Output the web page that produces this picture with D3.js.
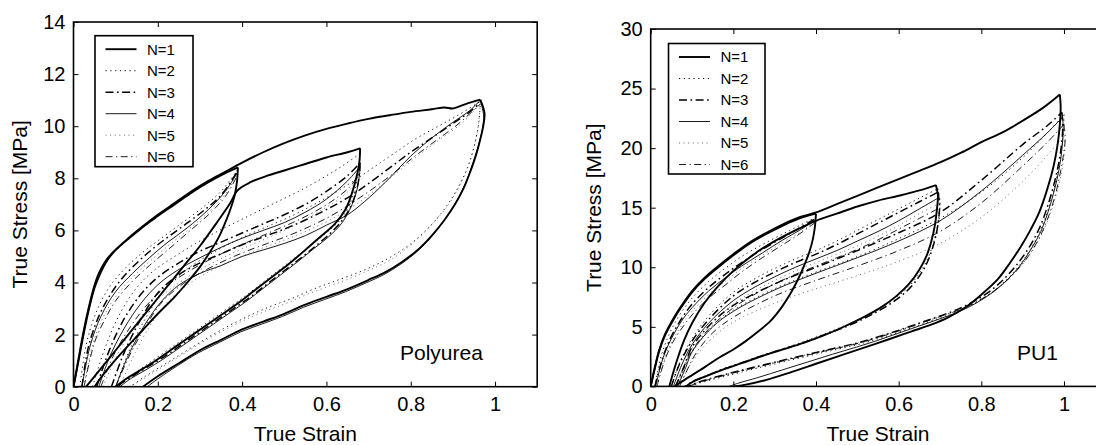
<!DOCTYPE html>
<html>
<head>
<meta charset="utf-8">
<script src="https://cdn.jsdelivr.net/npm/d3@7"></script>
<style>
  body { margin: 0; background: #fff; }
  svg { display: block; }
  text { font-family: "Liberation Sans", Arial, Helvetica, sans-serif; fill: #000; }
</style>
</head>
<body>
<svg id="fig" width="1096" height="445"></svg>
<script>
// ---- tick values and labels ----
const strainTicks = [0, 0.2, 0.4, 0.6, 0.8, 1];
const polyureaStressTicks = [0, 2, 4, 6, 8, 10, 12, 14];
const pu1StressTicks = [0, 5, 10, 15, 20, 25, 30];
const cycleLabels = ["N=1", "N=2", "N=3", "N=4", "N=5", "N=6"];

// ---- Polyurea: [true strain, true stress MPa]; each inner array is one loading or unloading branch ----
const polyureaN1 = [
  [[0,0],[0.01,0.9],[0.02,1.8],[0.03,2.6],[0.04,3.3],[0.05,3.9],[0.06,4.35],[0.075,4.8],[0.09,5.1],[0.11,5.4],[0.14,5.8],[0.17,6.2],[0.2,6.55],[0.24,7.0],[0.28,7.45],[0.32,7.85],[0.36,8.2],[0.39,8.42]],
  [[0.39,8.42],[0.388,7.9],[0.383,7.4],[0.373,6.85],[0.36,6.3],[0.345,5.75],[0.325,5.2],[0.3,4.6],[0.27,4.0],[0.24,3.45],[0.2,2.8],[0.16,2.1],[0.12,1.4],[0.09,0.85],[0.065,0.35],[0.05,0]],
  [[0.03,0],[0.06,0.6],[0.1,1.4],[0.14,2.2],[0.18,3.0],[0.22,3.8],[0.26,4.6],[0.3,5.4],[0.34,6.3],[0.37,7.0],[0.39,7.55],[0.42,7.85],[0.46,8.1],[0.5,8.3],[0.55,8.55],[0.6,8.8],[0.65,9.0],[0.68,9.15]],
  [[0.68,9.15],[0.678,8.6],[0.672,8.1],[0.66,7.4],[0.645,6.8],[0.62,6.25],[0.585,5.75],[0.55,5.25],[0.51,4.7],[0.47,4.2],[0.43,3.7],[0.39,3.2],[0.35,2.75],[0.31,2.3],[0.27,1.85],[0.23,1.4],[0.19,0.95],[0.15,0.55],[0.12,0.25],[0.1,0]],
  [[0,0],[0.012,1.0],[0.025,2.1],[0.037,3.0],[0.05,3.8],[0.065,4.4],[0.08,4.85],[0.1,5.25],[0.13,5.7],[0.16,6.1],[0.2,6.6],[0.24,7.05],[0.28,7.5],[0.32,7.9],[0.36,8.25],[0.4,8.6],[0.45,9.0],[0.5,9.35],[0.55,9.65],[0.6,9.9],[0.65,10.1],[0.7,10.28],[0.75,10.42],[0.8,10.55],[0.85,10.65],[0.88,10.72],[0.9,10.68],[0.93,10.85],[0.965,11.02]],
  [[0.965,11.02],[0.975,10.5],[0.972,10.0],[0.965,9.5],[0.955,8.9],[0.94,8.2],[0.925,7.6],[0.905,7.0],[0.88,6.4],[0.85,5.8],[0.82,5.3],[0.78,4.8],[0.74,4.4],[0.7,4.1],[0.65,3.75],[0.6,3.45],[0.55,3.15],[0.5,2.8],[0.45,2.5],[0.4,2.2],[0.35,1.8],[0.3,1.4],[0.25,0.9],[0.2,0.4],[0.165,0]]
];
const polyureaN2 = [
  [[0.015,0],[0.03,1.6],[0.05,2.7],[0.08,3.7],[0.12,4.5],[0.16,5.1],[0.2,5.6],[0.25,6.2],[0.3,6.8],[0.35,7.5],[0.39,8.35]],
  [[0.045,0],[0.075,1.5],[0.11,2.8],[0.15,3.8],[0.19,4.45],[0.24,5.0],[0.29,5.5],[0.34,5.95],[0.39,6.35],[0.44,6.75],[0.49,7.15],[0.54,7.55],[0.59,8.0],[0.64,8.5],[0.68,8.95]],
  [[0.68,8.95],[0.676,8.3],[0.668,7.6],[0.655,7.0],[0.635,6.45],[0.6,5.9],[0.565,5.45],[0.525,4.95],[0.485,4.45],[0.445,3.95],[0.405,3.45],[0.365,3.0],[0.325,2.55],[0.285,2.1],[0.245,1.65],[0.205,1.2],[0.165,0.75],[0.13,0.35],[0.105,0]],
  [[0.1,0],[0.13,1.3],[0.17,2.6],[0.21,3.6],[0.26,4.4],[0.31,4.95],[0.36,5.4],[0.41,5.8],[0.46,6.15],[0.51,6.5],[0.56,6.9],[0.61,7.35],[0.66,7.85],[0.71,8.4],[0.76,8.95],[0.81,9.5],[0.86,9.95],[0.91,10.4],[0.965,10.95]],
  [[0.965,10.95],[0.962,10.2],[0.953,9.4],[0.94,8.65],[0.922,7.95],[0.9,7.3],[0.872,6.65],[0.842,6.1],[0.805,5.55],[0.765,5.1],[0.72,4.7],[0.67,4.35],[0.62,4.05],[0.57,3.75],[0.52,3.4],[0.47,3.1],[0.42,2.75],[0.37,2.35],[0.32,1.9],[0.27,1.4],[0.22,0.9],[0.17,0.4],[0.135,0]]
];
const polyureaN3 = [
  [[0.02,0],[0.035,1.5],[0.06,2.7],[0.09,3.6],[0.12,4.25],[0.16,4.9],[0.2,5.45],[0.25,6.05],[0.3,6.65],[0.35,7.35],[0.39,8.3]],
  [[0.055,0],[0.085,1.4],[0.12,2.6],[0.16,3.55],[0.2,4.2],[0.25,4.75],[0.3,5.2],[0.35,5.55],[0.4,5.9],[0.45,6.25],[0.5,6.6],[0.55,7.0],[0.6,7.5],[0.65,8.1],[0.68,8.6]],
  [[0.68,8.6],[0.677,8.0],[0.67,7.45],[0.657,6.9],[0.638,6.4],[0.61,5.9],[0.578,5.45],[0.54,4.95],[0.5,4.45],[0.46,3.95],[0.42,3.45],[0.38,3.0],[0.34,2.55],[0.3,2.1],[0.26,1.65],[0.22,1.2],[0.18,0.8],[0.14,0.4],[0.11,0.08],[0.105,0]],
  [[0.09,0],[0.12,1.3],[0.16,2.6],[0.2,3.6],[0.25,4.3],[0.3,4.75],[0.35,5.1],[0.4,5.45],[0.45,5.75],[0.5,6.05],[0.55,6.4],[0.6,6.8],[0.65,7.25],[0.7,7.8],[0.75,8.4],[0.8,9.0],[0.85,9.55],[0.9,10.1],[0.94,10.55],[0.965,10.9]]
];
const polyureaN4 = [
  [[0.02,0],[0.04,1.6],[0.065,2.7],[0.1,3.65],[0.14,4.35],[0.18,4.95],[0.22,5.5],[0.27,6.1],[0.32,6.8],[0.36,7.5],[0.39,8.25]],
  [[0.06,0],[0.09,1.3],[0.13,2.5],[0.17,3.4],[0.21,4.05],[0.26,4.6],[0.3,4.95],[0.35,5.35],[0.4,5.7],[0.45,6.0],[0.5,6.3],[0.55,6.7],[0.6,7.2],[0.65,7.9],[0.68,8.45]],
  [[0.68,8.45],[0.676,7.85],[0.668,7.3],[0.654,6.75],[0.635,6.25],[0.605,5.75],[0.57,5.3],[0.532,4.8],[0.492,4.3],[0.452,3.8],[0.412,3.3],[0.372,2.85],[0.332,2.4],[0.292,1.95],[0.252,1.5],[0.212,1.05],[0.172,0.65],[0.135,0.3],[0.11,0]],
  [[0.1,0],[0.13,1.2],[0.17,2.4],[0.21,3.3],[0.25,3.9],[0.3,4.35],[0.35,4.65],[0.4,5.0],[0.45,5.25],[0.5,5.5],[0.55,5.8],[0.6,6.2],[0.65,6.6],[0.69,7.1],[0.74,7.85],[0.8,8.85],[0.85,9.55],[0.9,10.15],[0.94,10.6],[0.965,11.0]],
  [[0.965,11.0],[0.973,10.4],[0.97,9.9],[0.963,9.4],[0.952,8.8],[0.937,8.1],[0.921,7.5],[0.901,6.9],[0.876,6.3],[0.846,5.7],[0.816,5.2],[0.776,4.7],[0.736,4.3],[0.696,4.0],[0.646,3.65],[0.596,3.35],[0.546,3.05],[0.496,2.7],[0.446,2.4],[0.396,2.1],[0.346,1.7],[0.296,1.3],[0.246,0.8],[0.2,0.3],[0.175,0]]
];
const polyureaN5 = [
  [[0.025,0],[0.045,1.6],[0.07,2.65],[0.1,3.45],[0.14,4.2],[0.18,4.8],[0.22,5.35],[0.27,6.0],[0.32,6.7],[0.36,7.4],[0.39,8.2]],
  [[0.07,0],[0.1,1.1],[0.14,2.2],[0.18,3.05],[0.23,3.75],[0.28,4.3],[0.33,4.75],[0.38,5.15],[0.43,5.5],[0.48,5.85],[0.53,6.25],[0.58,6.7],[0.63,7.2],[0.66,7.65],[0.68,8.2]],
  [[0.11,0],[0.14,1.1],[0.18,2.3],[0.22,3.2],[0.27,3.9],[0.32,4.4],[0.37,4.8],[0.42,5.15],[0.47,5.45],[0.52,5.75],[0.57,6.1],[0.62,6.5],[0.67,7.0],[0.72,7.6],[0.77,8.25],[0.82,8.9],[0.87,9.5],[0.92,10.1],[0.965,10.85]],
  [[0.965,10.85],[0.96,10.0],[0.95,9.2],[0.935,8.4],[0.915,7.7],[0.89,7.0],[0.86,6.4],[0.828,5.85],[0.79,5.3],[0.75,4.85],[0.705,4.5],[0.655,4.15],[0.605,3.85],[0.555,3.55],[0.505,3.2],[0.455,2.9],[0.405,2.55],[0.355,2.15],[0.305,1.7],[0.255,1.2],[0.205,0.7],[0.155,0.2],[0.13,0]]
];
const polyureaN6 = [
  [[0.025,0],[0.05,1.7],[0.075,2.6],[0.1,3.3],[0.14,4.05],[0.18,4.65],[0.22,5.2],[0.27,5.9],[0.32,6.6],[0.36,7.3],[0.39,8.15]],
  [[0.065,0],[0.095,1.2],[0.135,2.3],[0.175,3.15],[0.22,3.85],[0.27,4.4],[0.32,4.85],[0.37,5.25],[0.42,5.6],[0.47,5.95],[0.52,6.3],[0.57,6.7],[0.62,7.2],[0.66,7.75],[0.68,8.3]],
  [[0.1,0],[0.13,1.1],[0.17,2.3],[0.21,3.25],[0.26,3.95],[0.31,4.45],[0.36,4.85],[0.41,5.2],[0.46,5.5],[0.51,5.8],[0.56,6.15],[0.61,6.55],[0.66,7.05],[0.71,7.6],[0.76,8.2],[0.81,8.85],[0.86,9.45],[0.91,10.05],[0.965,10.85]]
];

// ---- PU1 ----
const pu1N1 = [
  [[0,0],[0.01,1.5],[0.02,2.9],[0.035,4.3],[0.055,5.6],[0.075,6.7],[0.1,7.9],[0.13,9.0],[0.16,9.9],[0.2,11.0],[0.24,12.0],[0.28,12.8],[0.32,13.5],[0.36,14.1],[0.4,14.5]],
  [[0.4,14.5],[0.397,13.3],[0.392,12.3],[0.384,11.3],[0.372,10.2],[0.358,9.1],[0.34,7.9],[0.318,6.7],[0.29,5.5],[0.26,4.6],[0.23,3.8],[0.2,3.1],[0.165,2.4],[0.13,1.6],[0.1,0.95],[0.075,0.4],[0.058,0]],
  [[0.045,0],[0.06,1.8],[0.08,3.8],[0.1,5.3],[0.13,7.0],[0.16,8.3],[0.2,9.7],[0.25,11.1],[0.3,12.2],[0.35,13.1],[0.4,13.9],[0.45,14.5],[0.5,15.1],[0.55,15.6],[0.6,16.0],[0.65,16.45],[0.69,16.9]],
  [[0.69,16.9],[0.695,16.0],[0.693,15.0],[0.688,13.6],[0.68,12.3],[0.668,11.0],[0.65,9.8],[0.625,8.6],[0.595,7.6],[0.56,6.7],[0.52,5.9],[0.47,5.05],[0.42,4.3],[0.37,3.65],[0.32,3.1],[0.27,2.55],[0.22,1.95],[0.17,1.35],[0.13,0.8],[0.1,0.35],[0.085,0]],
  [[0,0],[0.01,1.6],[0.02,3.0],[0.035,4.4],[0.055,5.7],[0.075,6.8],[0.1,8.0],[0.13,9.1],[0.16,10.0],[0.2,11.1],[0.24,12.1],[0.28,12.9],[0.32,13.6],[0.36,14.2],[0.4,14.6],[0.45,15.3],[0.5,16.0],[0.55,16.7],[0.6,17.4],[0.65,18.1],[0.7,18.8],[0.75,19.6],[0.8,20.5],[0.85,21.3],[0.9,22.3],[0.95,23.4],[0.99,24.5]],
  [[0.99,24.5],[0.992,23.5],[0.99,22.0],[0.985,20.4],[0.975,18.5],[0.96,16.6],[0.94,14.6],[0.92,13.2],[0.895,11.7],[0.87,10.4],[0.84,9.0],[0.8,7.7],[0.76,6.6],[0.72,5.8],[0.68,5.2],[0.63,4.6],[0.58,4.0],[0.52,3.3],[0.46,2.6],[0.4,1.9],[0.34,1.2],[0.28,0.55],[0.23,0.15],[0.2,0]]
];
const pu1N2 = [
  [[0.01,0],[0.025,2.5],[0.045,4.4],[0.07,6.0],[0.1,7.4],[0.14,8.8],[0.18,9.9],[0.22,10.9],[0.27,11.9],[0.32,12.8],[0.36,13.5],[0.4,14.2]],
  [[0.05,0],[0.07,2.0],[0.1,4.0],[0.14,5.9],[0.2,7.9],[0.25,9.0],[0.3,9.9],[0.35,10.7],[0.4,11.4],[0.45,12.2],[0.5,13.1],[0.55,14.0],[0.6,14.9],[0.65,15.8],[0.695,16.6]],
  [[0.695,16.6],[0.7,15.6],[0.698,14.4],[0.692,13.1],[0.683,11.9],[0.67,10.7],[0.652,9.6],[0.628,8.5],[0.598,7.55],[0.563,6.7],[0.523,5.95],[0.473,5.15],[0.423,4.45],[0.373,3.8],[0.323,3.2],[0.273,2.65],[0.223,2.05],[0.173,1.45],[0.133,0.9],[0.1,0.4],[0.085,0]],
  [[0.065,0],[0.08,1.4],[0.1,2.9],[0.15,5.0],[0.2,6.4],[0.3,8.2],[0.4,9.6],[0.5,10.9],[0.6,12.4],[0.7,14.1],[0.8,16.3],[0.9,19.2],[0.96,21.3],[1.0,22.8]],
  [[1.0,22.8],[0.999,21.6],[0.995,20.2],[0.988,18.6],[0.978,16.9],[0.963,15.0],[0.945,13.3],[0.922,11.7],[0.895,10.3],[0.865,9.1],[0.83,8.0],[0.79,7.1],[0.75,6.4],[0.7,5.75],[0.65,5.15],[0.6,4.55],[0.55,4.0],[0.5,3.5],[0.43,2.95],[0.35,2.3],[0.26,1.55],[0.18,0.85],[0.12,0.3],[0.095,0]]
];
const pu1N3 = [
  [[0.01,0],[0.03,2.5],[0.05,4.2],[0.075,5.7],[0.1,6.9],[0.14,8.3],[0.18,9.4],[0.22,10.4],[0.27,11.5],[0.32,12.5],[0.36,13.3],[0.4,14.1]],
  [[0.05,0],[0.07,1.9],[0.1,3.8],[0.14,5.6],[0.2,7.6],[0.25,8.7],[0.3,9.6],[0.35,10.4],[0.4,11.1],[0.45,11.9],[0.5,12.8],[0.55,13.7],[0.6,14.6],[0.65,15.5],[0.695,16.3]],
  [[0.695,16.3],[0.699,15.3],[0.697,14.1],[0.691,12.8],[0.682,11.6],[0.669,10.4],[0.651,9.3],[0.627,8.25],[0.597,7.35],[0.562,6.55],[0.522,5.8],[0.472,5.0],[0.422,4.35],[0.372,3.7],[0.322,3.15],[0.272,2.6],[0.222,2.0],[0.172,1.4],[0.132,0.85],[0.1,0.38],[0.083,0]],
  [[0.06,0],[0.08,1.6],[0.1,3.3],[0.15,5.4],[0.2,6.8],[0.3,8.6],[0.4,10.0],[0.5,11.4],[0.6,12.9],[0.7,14.6],[0.8,17.3],[0.9,20.3],[0.96,21.9],[0.995,23.0]],
  [[0.995,23.0],[0.997,21.8],[0.994,20.3],[0.987,18.7],[0.976,17.0],[0.96,15.1],[0.942,13.4],[0.918,11.8],[0.89,10.4],[0.86,9.2],[0.825,8.1],[0.785,7.2],[0.745,6.5],[0.695,5.85],[0.645,5.25],[0.595,4.65],[0.545,4.1],[0.495,3.6],[0.425,3.05],[0.345,2.4],[0.255,1.65],[0.175,0.95],[0.115,0.35],[0.09,0]]
];
const pu1N4 = [
  [[0.012,0],[0.03,2.4],[0.05,4.0],[0.075,5.5],[0.1,6.6],[0.14,8.0],[0.18,9.1],[0.22,10.1],[0.27,11.2],[0.32,12.3],[0.36,13.1],[0.4,14.0]],
  [[0.055,0],[0.075,1.8],[0.1,3.5],[0.14,5.3],[0.2,7.2],[0.25,8.3],[0.3,9.2],[0.35,10.0],[0.4,10.7],[0.45,11.4],[0.5,12.2],[0.55,13.0],[0.6,13.9],[0.65,14.9],[0.695,15.8]],
  [[0.065,0],[0.085,1.6],[0.1,2.9],[0.15,5.0],[0.2,6.3],[0.3,8.1],[0.4,9.5],[0.5,10.8],[0.6,12.2],[0.7,13.9],[0.8,16.4],[0.9,19.4],[0.96,21.3],[0.997,22.6]],
  [[0.997,22.6],[0.998,21.4],[0.995,19.9],[0.988,18.2],[0.977,16.5],[0.962,14.7],[0.944,13.0],[0.92,11.5],[0.893,10.1],[0.863,8.95],[0.828,7.9],[0.788,7.0],[0.748,6.3],[0.698,5.65],[0.648,5.05],[0.598,4.45],[0.548,3.85],[0.498,3.3],[0.44,2.7],[0.38,2.05],[0.32,1.4],[0.26,0.75],[0.21,0.25],[0.19,0]]
];
const pu1N5 = [
  [[0.015,0],[0.035,2.5],[0.055,4.0],[0.08,5.4],[0.1,6.3],[0.14,7.7],[0.18,8.8],[0.22,9.9],[0.27,11.0],[0.32,12.1],[0.36,12.9],[0.4,13.9]],
  [[0.06,0],[0.08,1.7],[0.1,3.2],[0.14,5.0],[0.2,6.9],[0.25,8.0],[0.3,8.9],[0.35,9.7],[0.4,10.4],[0.45,11.1],[0.5,11.8],[0.55,12.6],[0.6,13.5],[0.65,14.5],[0.7,15.4]],
  [[0.07,0],[0.09,1.5],[0.12,3.0],[0.16,4.4],[0.2,5.4],[0.3,7.0],[0.4,8.2],[0.5,9.3],[0.6,10.5],[0.7,12.0],[0.8,14.2],[0.9,17.2],[0.96,19.4],[1.0,21.0]],
  [[1.0,21.0],[1.002,20.0],[0.998,18.8],[0.99,17.3],[0.978,15.7],[0.962,14.0],[0.942,12.5],[0.918,11.1],[0.89,9.9],[0.858,8.8],[0.822,7.8],[0.782,7.0],[0.74,6.35],[0.69,5.75],[0.64,5.2],[0.59,4.6],[0.54,4.05],[0.49,3.55],[0.42,3.0],[0.34,2.35],[0.25,1.6],[0.17,0.9],[0.11,0.3],[0.09,0]]
];
const pu1N6 = [
  [[0.015,0],[0.035,2.3],[0.055,3.8],[0.08,5.1],[0.1,6.0],[0.14,7.4],[0.18,8.5],[0.22,9.6],[0.27,10.8],[0.32,11.9],[0.36,12.8],[0.4,13.8]],
  [[0.06,0],[0.08,1.6],[0.1,3.0],[0.14,4.8],[0.2,6.6],[0.25,7.7],[0.3,8.6],[0.35,9.4],[0.4,10.1],[0.45,10.8],[0.5,11.5],[0.55,12.3],[0.6,13.2],[0.65,14.1],[0.7,15.0]],
  [[0.07,0],[0.09,1.5],[0.11,2.8],[0.15,4.5],[0.2,5.8],[0.3,7.6],[0.4,8.9],[0.5,10.1],[0.6,11.4],[0.7,13.0],[0.8,15.4],[0.9,18.5],[0.96,20.5],[1.0,22.0]],
  [[1.0,22.0],[1.003,20.8],[0.999,19.5],[0.991,17.9],[0.98,16.2],[0.964,14.4],[0.945,12.8],[0.921,11.3],[0.893,10.0],[0.862,8.9],[0.826,7.9],[0.786,7.05],[0.745,6.4],[0.695,5.8],[0.645,5.2],[0.595,4.6],[0.545,4.05],[0.495,3.55],[0.425,3.0],[0.345,2.35],[0.255,1.6],[0.175,0.9],[0.115,0.3],[0.092,0]]
];

// ---- line styles for the six cycles ----
const cycleStyles = [
  { width: 1.9, dash: null,            color: "#000" },
  { width: 1.0, dash: "1.2,3.6",       color: "#111" },
  { width: 1.5, dash: "8,3.5,1.6,3.5", color: "#000" },
  { width: 0.9, dash: null,            color: "#000" },
  { width: 0.8, dash: "1,3.6",         color: "#444" },
  { width: 0.9, dash: "7,3.5,1.2,3.5", color: "#000" }
];

const panels = [
  { id: "polyurea", label: "Polyurea", series: [polyureaN1, polyureaN2, polyureaN3, polyureaN4, polyureaN5, polyureaN6],
    yTicks: polyureaStressTicks, yMax: 14,
    left: 73.5, right: 537.2, top: 22, bottom: 386.7,
    legend: { x: 95, y: 35.7, w: 98, h: 131 }, note: { x: 400, y: 360 }, yLabelX: 27 },
  { id: "pu1", label: "PU1", series: [pu1N1, pu1N2, pu1N3, pu1N4, pu1N5, pu1N6],
    yTicks: pu1StressTicks, yMax: 30,
    left: 650.7, right: 1105.3, top: 29, bottom: 386.4,
    legend: { x: 668.5, y: 43.5, w: 96.5, h: 130.5 }, note: { x: 1017, y: 360 }, yLabelX: 601 }
];

const svg = d3.select("#fig");
const tickFont = 20, labelFont = 21;

panels.forEach(p => {
  const x = d3.scaleLinear().domain([0, 1.1]).range([p.left, p.right]);
  const y = d3.scaleLinear().domain([0, p.yMax]).range([p.bottom, p.top]);
  const g = svg.append("g").attr("class", p.id);

  g.append("defs").append("clipPath").attr("id", "clip-" + p.id)
    .append("rect").attr("x", p.left).attr("y", p.top)
    .attr("width", p.right - p.left).attr("height", p.bottom - p.top);

  // curves
  const line = d3.line().x(d => x(d[0])).y(d => y(d[1])).curve(d3.curveCatmullRom.alpha(0.5));
  const plot = g.append("g").attr("clip-path", `url(#clip-${p.id})`);
  p.series.forEach((branches, i) => {
    const st = cycleStyles[i];
    plot.append("g").selectAll("path").data(branches).join("path")
      .attr("d", line)
      .attr("fill", "none")
      .attr("stroke", st.color)
      .attr("stroke-width", st.width)
      .attr("stroke-dasharray", st.dash)
      .attr("stroke-linejoin", "round");
  });

  // axes with inward ticks
  const bottomAxis = d3.axisBottom(x).tickValues(strainTicks).tickFormat(d => String(d))
    .tickSize(-5).tickSizeOuter(0).tickPadding(10.5);
  const topAxis = d3.axisTop(x).tickValues(strainTicks).tickFormat("").tickSize(-5).tickSizeOuter(0);
  const leftAxis = d3.axisLeft(y).tickValues(p.yTicks).tickFormat(d => String(d))
    .tickSize(-5).tickSizeOuter(0).tickPadding(8);
  const rightAxis = d3.axisRight(y).tickValues(p.yTicks).tickFormat("").tickSize(-5).tickSizeOuter(0);

  const styleAxis = sel => {
    sel.select(".domain").remove();
    sel.selectAll(".tick line").attr("stroke", "#000").attr("stroke-width", 1);
    sel.selectAll(".tick text").attr("font-size", tickFont)
      .attr("font-family", '"Liberation Sans", Arial, sans-serif').attr("fill", "#000");
  };
  g.append("g").attr("transform", `translate(0,${p.bottom})`).call(bottomAxis).call(styleAxis);
  g.append("g").attr("transform", `translate(0,${p.top})`).call(topAxis).call(styleAxis);
  g.append("g").attr("transform", `translate(${p.left},0)`).call(leftAxis).call(styleAxis);
  g.append("g").attr("transform", `translate(${p.right},0)`).call(rightAxis).call(styleAxis);

  // frame
  g.append("rect").attr("x", p.left).attr("y", p.top)
    .attr("width", p.right - p.left).attr("height", p.bottom - p.top)
    .attr("fill", "none").attr("stroke", "#000").attr("stroke-width", 1.6);

  // axis titles
  g.append("text").attr("x", (p.left + p.right) / 2).attr("y", 440.5)
    .attr("text-anchor", "middle").attr("font-size", labelFont).text("True Strain");
  g.append("text")
    .attr("transform", `translate(${p.yLabelX},${(p.top + p.bottom) / 2}) rotate(-90)`)
    .attr("text-anchor", "middle").attr("font-size", labelFont).text("True Stress [MPa]");

  // material name
  g.append("text").attr("x", p.note.x).attr("y", p.note.y)
    .attr("font-size", labelFont).text(p.label);

  // legend
  const L = p.legend;
  const lg = g.append("g");
  lg.append("rect").attr("x", L.x).attr("y", L.y).attr("width", L.w).attr("height", L.h)
    .attr("fill", "#fff").attr("stroke", "#000").attr("stroke-width", 1.6);
  cycleLabels.forEach((name, i) => {
    const st = cycleStyles[i];
    const ry = L.y + 13.5 + i * 21.5;
    lg.append("line").attr("x1", L.x + 10.5).attr("x2", L.x + 41.5).attr("y1", ry).attr("y2", ry)
      .attr("stroke", st.color).attr("stroke-width", st.width).attr("stroke-dasharray", st.dash);
    lg.append("text").attr("x", L.x + 52).attr("y", ry).attr("dy", "0.36em")
      .attr("font-size", 15).text(name);
  });
});
</script>
</body>
</html>
